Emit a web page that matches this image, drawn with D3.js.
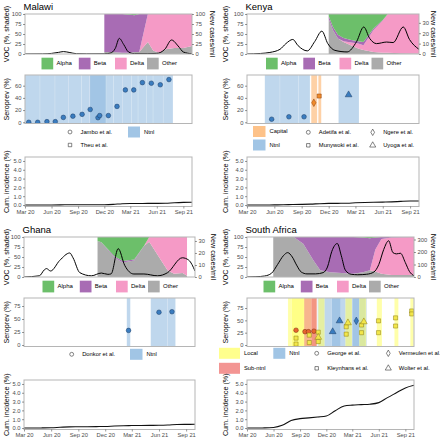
<!DOCTYPE html>
<html><head><meta charset="utf-8">
<script src="https://cdn.jsdelivr.net/npm/d3@7"></script>
<style>body{margin:0;background:#fff;} text{font-family:"Liberation Sans",Arial,Helvetica,sans-serif;}</style>
</head><body><script>
// ---------------- DATA ----------------
const xTickDates = ["2020-03-01","2020-06-01","2020-09-01","2020-12-01","2021-03-01","2021-06-01","2021-09-01"];
const xTickLabels = ["Mar 20","Jun 20","Sep 20","Dec 20","Mar 21","Jun 21","Sep 21"];
const vocKeys = ["Alpha","Beta","Delta","Other"];
const cumDates = ["2020-03-01","2020-04-01","2020-05-01","2020-06-01","2020-07-01","2020-08-01","2020-09-01","2020-10-01","2020-11-01","2020-12-01","2021-01-01","2021-02-01","2021-03-01","2021-04-01","2021-05-01","2021-06-01","2021-07-01","2021-08-01","2021-09-01","2021-10-01"];

// Malawi
const malawiCaseDates = ["2020-03-01","2020-05-01","2020-06-01","2020-06-25","2020-07-12","2020-08-01","2020-08-27","2020-10-01","2020-12-01","2020-12-21","2021-01-08","2021-01-22","2021-02-06","2021-02-23","2021-03-15","2021-05-01","2021-06-01","2021-06-29","2021-07-22","2021-08-14","2021-09-01","2021-10-01"];
const malawiCases = [0,0.2,1.5,4,6,4,0.7,0.3,0.5,2,14,39,24,5,1,0.8,1.5,12,35,20,5,0.5];
const malawiVocDates = ["2020-12-01","2021-01-01","2021-02-01","2021-03-01","2021-03-15","2021-04-01","2021-05-01","2021-05-20","2021-06-10","2021-07-01","2021-08-01","2021-09-01","2021-10-01"];
const malawiAlpha = [0,0,0,2,3,0,0,0,0,0,0,0,0];
const malawiBeta  = [95,95,97,95,92,95,0,0,0,0,0,0,0];
const malawiDelta = [0,0,0,0,0,0,70,92,97,88,85,85,80];
const malawiOther = [5,5,3,3,5,5,30,8,3,12,15,15,20];
const malawiRectStart = ["2020-03-01","2020-04-22","2020-06-13","2020-07-29","2020-09-14","2020-10-12","2020-10-12","2020-12-07","2021-01-02","2021-02-01","2021-03-05","2021-03-28","2021-04-26","2021-05-19","2021-06-23"];
const malawiRectEnd   = ["2020-04-22","2020-06-13","2020-07-29","2020-09-14","2020-10-12","2020-12-07","2020-12-07","2021-01-02","2021-02-01","2021-03-05","2021-03-28","2021-04-26","2021-05-19","2021-06-23","2021-07-27"];
const malawiRectType  = ["Ntnl","Ntnl","Ntnl","Ntnl","Ntnl","Ntnl","Ntnl","Ntnl","Ntnl","Ntnl","Ntnl","Ntnl","Ntnl","Ntnl","Ntnl"];
const malawiPtDates = ["2020-03-14","2020-04-14","2020-05-16","2020-06-14","2020-07-12","2020-08-14","2020-09-15","2020-10-13","2020-11-09","2020-11-15","2020-12-15","2021-01-14","2021-02-12","2021-03-13","2021-04-12","2021-05-13","2021-06-13","2021-07-13"];
const malawiPtValues = [0,0,1,1,8,10,13,21,7.5,11,11,26,53,53,65,64,61.5,70];
const malawiPtStudy = ["c","c","c","c","c","c","c","c","c","c","c","c","c","c","c","c","c","c"];
const malawiPtType = ["Ntnl","Ntnl","Ntnl","Ntnl","Ntnl","Ntnl","Ntnl","Ntnl","Ntnl","Ntnl","Ntnl","Ntnl","Ntnl","Ntnl","Ntnl","Ntnl","Ntnl","Ntnl"];
const malawiCum = [0,0,0,0.005,0.015,0.025,0.03,0.03,0.032,0.035,0.07,0.15,0.17,0.175,0.18,0.185,0.2,0.26,0.3,0.32];

// Kenya
const kenyaCaseDates = ["2020-03-01","2020-04-15","2020-05-17","2020-06-20","2020-07-10","2020-08-02","2020-08-20","2020-09-20","2020-10-15","2020-11-08","2020-11-28","2020-12-22","2021-02-01","2021-03-05","2021-03-29","2021-04-18","2021-05-11","2021-06-14","2021-07-06","2021-08-09","2021-08-30","2021-10-01"];
const kenyaCases = [0,0.5,1.5,4.5,10,14,8,3,12,22,10,3.5,2,12,26,15,10,11.5,11,26,14,4.5];
const kenyaVocDates = ["2020-12-01","2020-12-15","2021-01-01","2021-01-20","2021-02-15","2021-03-10","2021-03-28","2021-05-01","2021-06-01","2021-06-18","2021-08-01","2021-10-01"];
const kenyaAlpha = [5,32,52,60,65,68,70,36,15,0,0,0];
const kenyaBeta  = [7,8,9,8,6,6,8,4,1,0,0,0];
const kenyaDelta = [0,0,0,2,8,12,12,55,81,97,98,99];
const kenyaOther = [88,60,39,30,21,14,10,5,3,3,2,1];
const kenyaRectStart = ["2020-04-30","2020-06-20","2020-08-21","2020-10-03","2020-10-27","2021-01-03"];
const kenyaRectEnd   = ["2020-06-20","2020-08-21","2020-09-29","2020-10-23","2020-11-06","2021-03-13"];
const kenyaRectType  = ["Ntnl","Ntnl","Ntnl","Capital","Capital","Ntnl"];
const kenyaPtDates = ["2020-05-23","2020-07-20","2020-09-09","2020-10-12","2020-10-30","2021-02-06"];
const kenyaPtValues = [5,9,9,32,43,45];
const kenyaPtStudy = ["c","c","c","d","s","t"];
const kenyaPtType = ["Ntnl","Ntnl","Ntnl","Capital","Capital","Ntnl"];
const kenyaCum = [0,0,0.002,0.01,0.03,0.06,0.075,0.1,0.15,0.18,0.19,0.2,0.25,0.29,0.31,0.33,0.36,0.41,0.45,0.46];

// Ghana
const ghanaCaseDates = ["2020-03-01","2020-04-22","2020-05-09","2020-05-16","2020-05-30","2020-06-30","2020-08-03","2020-08-14","2020-09-06","2020-10-15","2020-11-18","2020-12-10","2020-12-21","2021-01-14","2021-02-05","2021-03-08","2021-04-11","2021-05-27","2021-06-30","2021-08-19","2021-09-10","2021-10-01"];
const ghanaCases = [0,1,6,7,5,13.8,20,16,3.6,1,3.3,2.2,2.6,23.6,9.7,2.5,2.5,1,3.6,16,14,5];
const ghanaVocDates = ["2020-11-05","2020-11-18","2021-01-02","2021-01-30","2021-03-09","2021-04-12","2021-04-29","2021-06-08","2021-06-30","2021-07-22","2021-08-20","2021-09-04"];
const ghanaAlpha = [10,13,49,60,56,21,0,0,0,0,0,0];
const ghanaBeta  = [0,0,3,4,3,1,0,0,0,0,0,0];
const ghanaDelta = [0,0,0,0,0,0,12,58,83,92,90,97];
const ghanaOther = [90,87,48,36,41,78,88,42,17,8,10,3];
const ghanaRectStart = ["2021-02-12","2021-05-04","2021-07-01"];
const ghanaRectEnd   = ["2021-02-24","2021-07-01","2021-07-27"];
const ghanaRectType  = ["Ntnl","Ntnl","Ntnl"];
const ghanaPtDates = ["2021-02-18","2021-06-01","2021-07-15"];
const ghanaPtValues = [28,63,64];
const ghanaPtStudy = ["c","c","c"];
const ghanaPtType = ["Ntnl","Ntnl","Ntnl"];
const ghanaCum = [0,0,0.01,0.03,0.08,0.13,0.14,0.15,0.16,0.17,0.22,0.26,0.28,0.29,0.3,0.31,0.34,0.39,0.41,0.42];

// South Africa
const saCaseDates = ["2020-03-01","2020-04-01","2020-05-01","2020-05-25","2020-06-15","2020-07-05","2020-07-20","2020-08-05","2020-08-20","2020-09-05","2020-09-25","2020-10-25","2020-11-20","2020-12-05","2020-12-20","2021-01-08","2021-01-22","2021-02-05","2021-02-25","2021-03-20","2021-04-20","2021-05-15","2021-06-01","2021-06-18","2021-07-05","2021-07-20","2021-08-01","2021-08-15","2021-09-01","2021-09-15","2021-10-01"];
const saCases = [0,2,8,30,100,170,195,160,95,40,25,25,35,80,205,268,170,55,22,18,22,40,100,220,290,195,185,190,115,45,10];
const saVocDates = ["2020-05-31","2020-08-10","2020-09-12","2020-10-17","2020-11-10","2020-12-14","2021-03-04","2021-04-07","2021-05-01","2021-05-20","2021-06-10","2021-07-15","2021-10-01"];
const saAlpha = [0,0,0,0,0,0,0,1,3,1,0,0,0];
const saBeta  = [0,0,17,58,83,88,92,87,80,30,5,1,0];
const saDelta = [0,0,0,0,0,0,0,0,0,55,87,94,95];
const saOther = [100,100,83,42,17,12,8,12,17,14,8,5,5];
const saRectStart = ["2020-07-21","2020-08-03","2020-09-15","2020-10-10","2020-11-01","2020-11-03","2020-12-20","2021-02-05","2021-03-01","2021-03-25","2021-05-25","2021-07-25","2021-09-18"];
const saRectEnd   = ["2020-09-18","2020-10-29","2020-10-29","2020-10-29","2021-04-15","2020-11-25","2021-01-20","2021-02-28","2021-04-20","2021-04-18","2021-06-12","2021-08-08","2021-09-30"];
const saRectType  = ["Local","Local","Sub-ntnl","Sub-ntnl","Ntnl","Local","Ntnl","Local","Ntnl","Local","Local","Local","Local"];
const saPtDates = ["2020-08-18","2020-09-18","2020-09-30","2020-10-19","2020-08-18","2020-08-18","2020-10-03","2020-10-03","2020-11-03","2020-11-03","2021-02-08","2021-02-08","2021-04-02","2021-04-02","2021-05-31","2021-05-31","2021-07-29","2021-07-29","2021-09-23","2021-09-23","2020-11-03","2021-02-14","2021-04-10","2020-12-23","2021-01-16","2021-03-15"];
const saPtValues = [30,27,27,28,14,2,20,5,26,7,22,37,40.6,25,49,25,55,38.5,69,63,15.6,45,47,27,49,49];
const saPtStudy = ["c","c","c","c","s","s","s","s","s","s","s","s","s","s","s","s","s","s","s","s","t","t","t","t","t","d"];
const saPtType = ["Sub-ntnl","Sub-ntnl","Sub-ntnl","Sub-ntnl","Local","Local","Local","Local","Local","Local","Local","Local","Local","Local","Local","Local","Local","Local","Local","Local","Local","Local","Local","Ntnl","Ntnl","Ntnl"];
const saCum = [0,0.002,0.01,0.06,0.3,0.85,1.06,1.15,1.25,1.36,1.97,2.5,2.6,2.65,2.7,2.88,3.45,4.0,4.55,4.85];

// ---------------- STYLE ----------------
const vocColors = {Alpha:"#6cbf6a", Beta:"#a86cb4", Delta:"#f59ac6", Other:"#ababab"};
const rectColors = {Ntnl:"#8ab6de", Capital:"#fdb36b", Local:"#ffff70", "Sub-ntnl":"#f07a78"};
const rectOpacity = {Ntnl:0.55, Capital:0.6, Local:0.6, "Sub-ntnl":0.55};
const ptFill = {Ntnl:"#3a7cbf", Capital:"#f08a2a", Local:"#f2e64a", "Sub-ntnl":"#e8652f"};
const ptStroke = {Ntnl:"#1b3d66", Capital:"#8a3f0a", Local:"#8c7d10", "Sub-ntnl":"#7a2a10"};
const symTypes = {c:d3.symbolCircle, s:d3.symbolSquare, d:d3.symbolDiamond, t:d3.symbolTriangle};

const parse = d3.timeParse("%Y-%m-%d");
const W = 440, H = 439;
const svg = d3.select("body").append("svg").attr("width", W).attr("height", H);
let clipId = 0;

const countries = [
  {name:"Malawi", qx:0, qy:0, x0:25, x1:192, caseMax:100, caseTicks:[0,25,50,75,100], rightTitleDx:20,
   caseDates:malawiCaseDates, cases:malawiCases, vocDates:malawiVocDates, alpha:malawiAlpha, beta:malawiBeta, delta:malawiDelta, other:malawiOther,
   rectStart:malawiRectStart, rectEnd:malawiRectEnd, rectType:malawiRectType,
   ptDates:malawiPtDates, ptValues:malawiPtValues, ptStudy:malawiPtStudy, ptType:malawiPtType,
   seroDomain:[-2,77.5], seroTicks:[0,20,40,60], cum:malawiCum,
   legend:{types:[{t:"Ntnl",x:128,y:132,w:12}], studies:[{s:"c",label:"Jambo et al.",x:70,y:132},{s:"s",label:"Theu et al.",x:70,y:145}]}},
  {name:"Kenya", qx:219, qy:0, x0:247, x1:419, caseMax:38.5, caseTicks:[0,10,20,30], rightTitleDx:14,
   caseDates:kenyaCaseDates, cases:kenyaCases, vocDates:kenyaVocDates, alpha:kenyaAlpha, beta:kenyaBeta, delta:kenyaDelta, other:kenyaOther,
   rectStart:kenyaRectStart, rectEnd:kenyaRectEnd, rectType:kenyaRectType,
   ptDates:kenyaPtDates, ptValues:kenyaPtValues, ptStudy:kenyaPtStudy, ptType:kenyaPtType,
   seroDomain:[-2,77.5], seroTicks:[0,20,40,60], cum:kenyaCum,
   legend:{types:[{t:"Capital",x:253,y:131.5,w:12.5},{t:"Ntnl",x:253,y:145,w:12.5}], studies:[{s:"c",label:"Adetifa et al.",x:308.3,y:132.3},{s:"s",label:"Munywoki et al.",x:308.3,y:145.3},{s:"d",label:"Ngere et al.",x:372.7,y:132.3},{s:"t",label:"Uyoga et al.",x:372.7,y:145.3}]}},
  {name:"Ghana", qx:0, qy:223, x0:24, x1:195, caseMax:33.3, caseTicks:[0,10,20,30], rightTitleDx:18,
   caseDates:ghanaCaseDates, cases:ghanaCases, vocDates:ghanaVocDates, alpha:ghanaAlpha, beta:ghanaBeta, delta:ghanaDelta, other:ghanaOther,
   rectStart:ghanaRectStart, rectEnd:ghanaRectEnd, rectType:ghanaRectType,
   ptDates:ghanaPtDates, ptValues:ghanaPtValues, ptStudy:ghanaPtStudy, ptType:ghanaPtType,
   seroDomain:[-2.9,90.4], seroTicks:[0,25,50,75], cum:ghanaCum,
   legend:{types:[{t:"Ntnl",x:130,y:131.3,w:12.5}], studies:[{s:"c",label:"Donkor et al.",x:71.7,y:131.3}]}},
  {name:"South Africa", qx:219, qy:223, x0:247, x1:414, caseMax:320, caseTicks:[0,100,200,300], rightTitleDx:19,
   caseDates:saCaseDates, cases:saCases, vocDates:saVocDates, alpha:saAlpha, beta:saBeta, delta:saDelta, other:saOther,
   rectStart:saRectStart, rectEnd:saRectEnd, rectType:saRectType,
   ptDates:saPtDates, ptValues:saPtValues, ptStudy:saPtStudy, ptType:saPtType,
   seroDomain:[-3,95.3], seroTicks:[0,25,50,75], cum:saCum,
   legend:{types:[{t:"Local",x:219,y:130.3,w:21},{t:"Sub-ntnl",x:219,y:145.3,w:21},{t:"Ntnl",x:273.3,y:130.3,w:12}], studies:[{s:"c",label:"George et al.",x:316.7,y:130.3},{s:"s",label:"Kleynhans et al.",x:316.7,y:145.3},{s:"d",label:"Vermeulen et al.",x:388.3,y:130.3},{s:"t",label:"Wolter et al.",x:388.3,y:145.3}]}}
];

const P = {title:9.5, vocTop:14, vocBot:54, legY:63.5, seroTop:75, seroBot:123.5, cumTop:157, cumBot:206.5};
const FONT_TICK = "5.8px", FONT_LEG = "6px", FONT_SLEG = "5.8px", FONT_AXT = "7.2px", FONT_TITLE = "9.5px";

function styleAxis(sel){
  sel.select(".domain").remove();
  sel.selectAll(".tick line").attr("stroke","#333").attr("stroke-width",0.5);
  sel.selectAll(".tick text").attr("fill","#4d4d4d").style("font-size",FONT_TICK).style("font-family",'"Liberation Sans",Arial,sans-serif');
}
function frame(g, x0, x1, y0, y1){
  g.append("rect").attr("x",x0).attr("y",y0).attr("width",x1-x0).attr("height",y1-y0)
   .attr("fill","none").attr("stroke","#b5b5b5").attr("stroke-width",1);
}
function clip(g, x0, x1, y0, y1){
  const id = "clip"+(clipId++);
  g.append("clipPath").attr("id",id).append("rect").attr("x",x0).attr("y",y0).attr("width",x1-x0).attr("height",y1-y0);
  return "url(#"+id+")";
}
function yTitle(g, x, y, txt, rot){
  g.append("text").attr("transform",`translate(${x},${y}) rotate(${rot})`).attr("text-anchor","middle")
   .attr("dominant-baseline","middle").style("font-size",FONT_AXT).attr("fill","#000").text(txt);
}

function drawCountry(c){
  const g = svg.append("g").attr("transform",`translate(0,${c.qy})`);
  const x = d3.scaleTime().domain([parse("2020-03-01"), parse("2021-10-01")]).range([c.x0, c.x1]);
  g.append("text").attr("x", c.x0-1.5).attr("y", P.title).style("font-size",FONT_TITLE).attr("fill","#000").text(c.name);

  // ---- VOC panel ----
  const yV = d3.scaleLinear().domain([0,100]).range([P.vocBot, P.vocTop]);
  const yC = d3.scaleLinear().domain([0,c.caseMax]).range([P.vocBot, P.vocTop]);
  const rows = c.vocDates.map((d,i)=>({date:parse(d), Alpha:c.alpha[i], Beta:c.beta[i], Delta:c.delta[i], Other:c.other[i]}));
  const stacked = d3.stack().keys(["Other","Delta","Beta","Alpha"])(rows);
  const area = d3.area().x(d=>x(d.data.date)).y0(d=>yV(d[0])).y1(d=>yV(d[1]));
  const cp = clip(g, c.x0, c.x1, P.vocTop, P.vocBot);
  const pv = g.append("g").attr("clip-path", cp);
  pv.selectAll("path.voc").data(stacked).join("path").attr("class","voc").attr("d",area).attr("fill",d=>vocColors[d.key]);
  const line = d3.line().x(d=>x(d.date)).y(d=>yC(d.v)).curve(d3.curveMonotoneX);
  const caseData = c.caseDates.map((d,i)=>({date:parse(d), v:c.cases[i]}));
  pv.append("path").attr("d", line(caseData)).attr("fill","none").attr("stroke","#000").attr("stroke-width",1);
  frame(g, c.x0, c.x1, P.vocTop, P.vocBot);
  g.append("g").attr("transform",`translate(${c.x0},0)`).call(d3.axisLeft(yV).tickValues([0,25,50,75,100]).tickSize(2).tickPadding(1.5)).call(styleAxis);
  g.append("g").attr("transform",`translate(${c.x1},0)`).call(d3.axisRight(yC).tickValues(c.caseTicks).tickSize(2).tickPadding(1.5)).call(styleAxis);
  yTitle(g, c.qx+7.5, (P.vocTop+P.vocBot)/2, "VOC (%, shaded)", -90);
  yTitle(g, c.x1 + c.rightTitleDx, (P.vocTop+P.vocBot)/2, "New cases/mil", 90);

  // VOC legend
  const legOff = [0,37.3,73.5,105.5];
  const legStart = (c.x0+c.x1)/2 - 67;
  vocKeys.forEach((k,i)=>{
    const lx = legStart + legOff[i];
    g.append("rect").attr("x",lx).attr("y",P.legY-5.8).attr("width",11.7).attr("height",11.7).attr("fill",vocColors[k]);
    g.append("text").attr("x",lx+15).attr("y",P.legY).attr("dominant-baseline","middle").style("font-size",FONT_LEG).text(k);
  });

  // ---- Sero panel ----
  const yS = d3.scaleLinear().domain(c.seroDomain).range([P.seroBot, P.seroTop]);
  const cps = clip(g, c.x0, c.x1, P.seroTop, P.seroBot);
  const ps = g.append("g").attr("clip-path", cps);
  c.rectStart.forEach((s,i)=>{
    const t = c.rectType[i];
    ps.append("rect").attr("x",x(parse(s))).attr("y",P.seroTop).attr("width",x(parse(c.rectEnd[i]))-x(parse(s)))
      .attr("height",P.seroBot-P.seroTop).attr("fill",rectColors[t]).attr("fill-opacity",rectOpacity[t])
      .attr("stroke","#fff").attr("stroke-opacity",0.4).attr("stroke-width",0.4);
  });
  c.ptDates.forEach((d,i)=>{
    const t = c.ptType[i];
    ps.append("path").attr("transform",`translate(${x(parse(d))},${yS(c.ptValues[i])})`)
      .attr("d", d3.symbol().type(symTypes[c.ptStudy[i]]).size(c.ptStudy[i]==="t"?20:17)())
      .attr("fill",ptFill[t]).attr("stroke",ptStroke[t]).attr("stroke-width",0.5);
  });
  frame(g, c.x0, c.x1, P.seroTop, P.seroBot);
  g.append("g").attr("transform",`translate(${c.x0},0)`).call(d3.axisLeft(yS).tickValues(c.seroTicks).tickSize(2).tickPadding(1.5)).call(styleAxis);
  yTitle(g, c.qx+7.5, (P.seroTop+P.seroBot)/2, "Seroprev (%)", -90);

  // sero legend
  c.legend.types.forEach(l=>{
    g.append("rect").attr("x",l.x).attr("y",l.y-5.5).attr("width",l.w).attr("height",11).attr("fill",rectColors[l.t]).attr("fill-opacity",0.8);
    g.append("text").attr("x",l.x+l.w+4).attr("y",l.y).attr("dominant-baseline","middle").style("font-size",FONT_SLEG).text(l.t);
  });
  c.legend.studies.forEach(l=>{
    g.append("path").attr("transform",`translate(${l.x},${l.y})`).attr("d", d3.symbol().type(symTypes[l.s]).size(l.s==="t"?16:12)())
      .attr("fill","none").attr("stroke","#333").attr("stroke-width",0.6);
    g.append("text").attr("x",l.x+10.5).attr("y",l.y).attr("dominant-baseline","middle").style("font-size",FONT_SLEG).text(l.label);
  });

  // ---- Cum incidence panel ----
  const yI = d3.scaleLinear().domain([-0.17,5.45]).range([P.cumBot, P.cumTop]);
  const cpc = clip(g, c.x0, c.x1, P.cumTop, P.cumBot);
  const pc = g.append("g").attr("clip-path", cpc);
  const cumData = cumDates.map((d,i)=>({date:parse(d), v:c.cum[i]}));
  pc.append("path").attr("d", d3.line().x(d=>x(d.date)).y(d=>yI(d.v)).curve(d3.curveMonotoneX)(cumData))
    .attr("fill","none").attr("stroke","#111").attr("stroke-width",1.1);
  frame(g, c.x0, c.x1, P.cumTop, P.cumBot);
  g.append("g").attr("transform",`translate(${c.x0},0)`).call(d3.axisLeft(yI).tickValues([0,1,2,3,4,5]).tickSize(2).tickPadding(1.5)).call(styleAxis);
  g.append("g").attr("transform",`translate(0,${P.cumBot})`)
    .call(d3.axisBottom(x).tickValues(xTickDates.map(parse)).tickFormat((d,i)=>xTickLabels[i]).tickSize(2).tickPadding(1)).call(styleAxis);
  yTitle(g, c.qx+7.5, (P.cumTop+P.cumBot)/2, "Cum. incidence (%)", -90);
}
countries.forEach(drawCountry);
</script></body></html>
